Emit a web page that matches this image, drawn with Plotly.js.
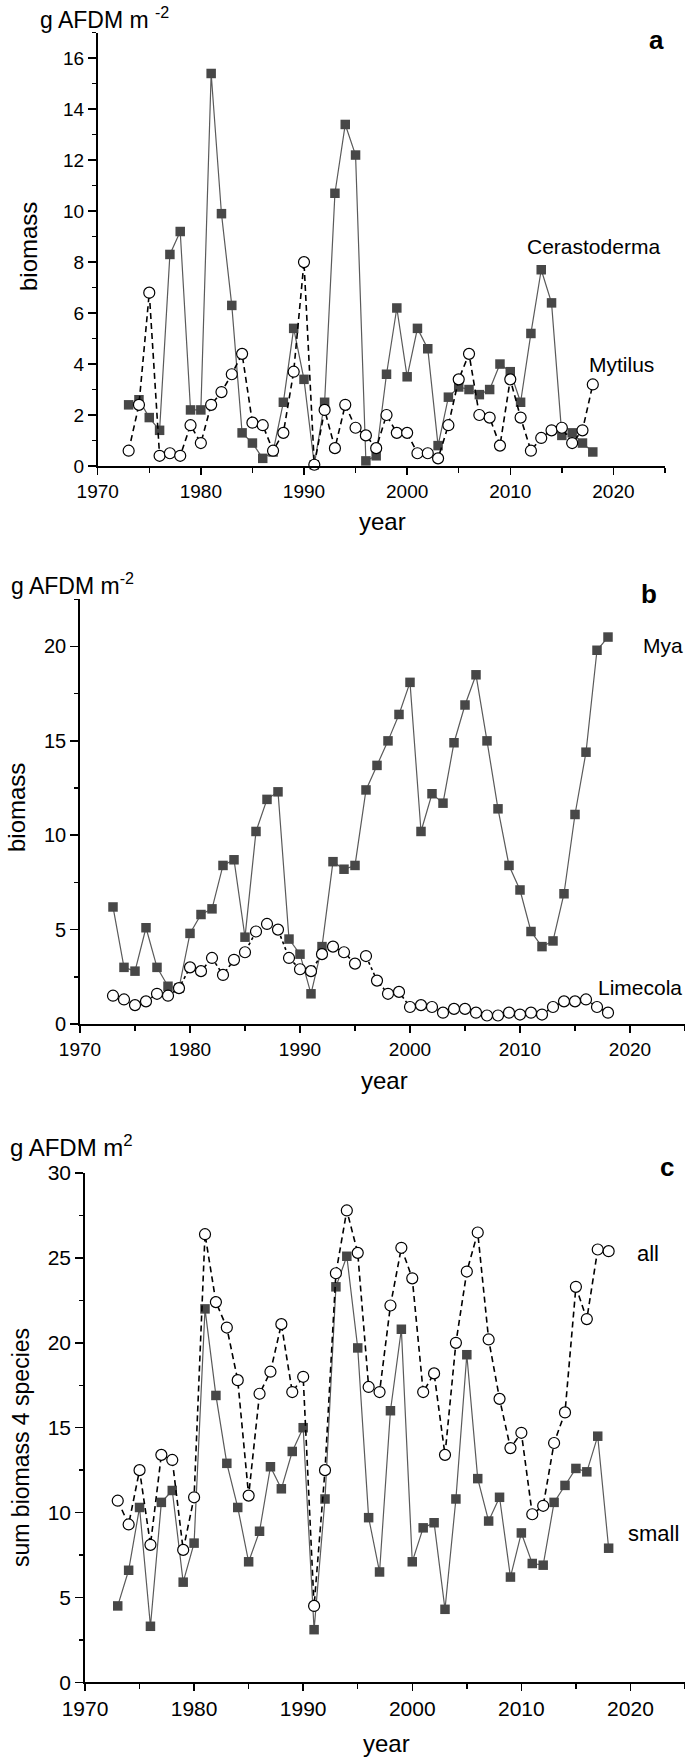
<!DOCTYPE html>
<html>
<head>
<meta charset="utf-8">
<script src="https://cdn.plot.ly/plotly-3.0.1.min.js"></script>
<style>
  html, body { margin: 0; padding: 0; background: #fff; }
  #chart { width: 685px; height: 1759px; }
</style>
</head>
<body>
<div id="chart"></div>
<script>
// ---------- data ----------
const years = [1973,1974,1975,1976,1977,1978,1979,1980,1981,1982,1983,1984,1985,1986,1987,1988,1989,1990,
  1991,1992,1993,1994,1995,1996,1997,1998,1999,2000,2001,2002,2003,2004,2005,2006,2007,2008,2009,2010,
  2011,2012,2013,2014,2015,2016,2017,2018];

// panel a
const cerastoderma = [2.4,2.6,1.9,1.4,8.3,9.2,2.2,2.2,15.4,9.9,6.3,1.3,0.9,0.3,0.55,2.5,5.4,3.4,
  0.05,2.5,10.7,13.4,12.2,0.2,0.4,3.6,6.2,3.5,5.4,4.6,0.8,2.7,3.1,3.0,2.8,3.0,4.0,3.7,
  2.5,5.2,7.7,6.4,1.2,1.3,0.9,0.55];
const mytilus = [0.6,2.4,6.8,0.4,0.5,0.4,1.6,0.9,2.4,2.9,3.6,4.4,1.7,1.6,0.6,1.3,3.7,8.0,
  0.05,2.2,0.7,2.4,1.5,1.2,0.7,2.0,1.3,1.3,0.5,0.5,0.3,1.6,3.4,4.4,2.0,1.9,0.8,3.4,
  1.9,0.6,1.1,1.4,1.5,0.9,1.4,3.2];

// panel b
const mya = [6.2,3.0,2.8,5.1,3.0,2.0,1.9,4.8,5.8,6.1,8.4,8.7,4.6,10.2,11.9,12.3,4.5,3.7,
  1.6,4.1,8.6,8.2,8.4,12.4,13.7,15.0,16.4,18.1,10.2,12.2,11.7,14.9,16.9,18.5,15.0,11.4,8.4,7.1,
  4.9,4.1,4.4,6.9,11.1,14.4,19.8,20.5];
const limecola = [1.5,1.3,1.0,1.2,1.6,1.5,1.9,3.0,2.8,3.5,2.6,3.4,3.8,4.9,5.3,5.0,3.5,2.9,
  2.8,3.7,4.1,3.8,3.2,3.6,2.3,1.6,1.7,0.9,1.0,0.9,0.6,0.8,0.8,0.6,0.45,0.45,0.6,0.5,
  0.6,0.5,0.9,1.2,1.2,1.3,0.9,0.6];

// panel c
const small = [4.5,6.6,10.3,3.3,10.6,11.3,5.9,8.2,22.0,16.9,12.9,10.3,7.1,8.9,12.7,11.4,13.6,15.0,
  3.1,10.8,23.3,25.1,19.7,9.7,6.5,16.0,20.8,7.1,9.1,9.4,4.3,10.8,19.3,12.0,9.5,10.9,6.2,8.8,
  7.0,6.9,10.6,11.6,12.6,12.4,14.5,7.9];
const all = [10.7,9.3,12.5,8.1,13.4,13.1,7.8,10.9,26.4,22.4,20.9,17.8,11.0,17.0,18.3,21.1,17.1,18.0,
  4.5,12.5,24.1,27.8,25.3,17.4,17.1,22.2,25.6,23.8,17.1,18.2,13.4,20.0,24.2,26.5,20.2,16.7,13.8,14.7,
  9.9,10.4,14.1,15.9,23.3,21.4,25.5,25.4];

const xTickVals = [1970,1980,1990,2000,2010,2020];
const xTickText = ['1970','1980','1990','2000','2010','2020'];

// ---------- styles ----------
const FONT = 'Liberation Sans, Arial, sans-serif';
const W = 685, H = 1759;
const px = v => v / W;             // x pixel -> paper
const py = v => (H - v) / H;       // y pixel -> paper

function squareTrace(y, xa, ya) {
  return {
    x: years, y: y, xaxis: xa, yaxis: ya, type: 'scatter', mode: 'lines+markers',
    cliponaxis: false,
    line: { color: '#5a5a5a', width: 1.2 },
    marker: { symbol: 'square', size: 9.5, color: '#474747', line: { width: 0 } },
    showlegend: false, hoverinfo: 'x+y'
  };
}
function circleTrace(y, xa, ya, dash) {
  return {
    x: years, y: y, xaxis: xa, yaxis: ya, type: 'scatter', mode: 'lines+markers',
    cliponaxis: false,
    line: { color: '#000', width: 1.6, dash: dash || '6px,4px' },
    marker: { symbol: 'circle', size: 11, color: '#fff', line: { width: 1.2, color: '#000' } },
    showlegend: false, hoverinfo: 'x+y'
  };
}

function xAxis(domain, anchor, fs) {
  return {
    domain: domain, anchor: anchor, range: [1970, 2025],
    tickmode: 'array', tickvals: xTickVals, ticktext: xTickText,
    ticks: 'outside', ticklen: 7, tickwidth: 1.5, tickcolor: '#000',
    minor: { dtick: 5, tick0: 1970, ticks: 'outside', ticklen: 5, tickwidth: 1.5, tickcolor: '#000' },
    showline: true, linecolor: '#000', linewidth: 1.8,
    showgrid: false, zeroline: false,
    tickfont: { family: FONT, size: fs, color: '#000' }
  };
}
function yAxis(domain, anchor, range, dtick, minor, fs) {
  return {
    domain: domain, anchor: anchor, range: range,
    tick0: 0, dtick: dtick,
    ticks: 'outside', ticklen: 8, tickwidth: 1.5, tickcolor: '#000',
    minor: { dtick: minor, tick0: 0, ticks: 'outside', ticklen: 4, tickwidth: 1.5, tickcolor: '#000' },
    showline: true, linecolor: '#000', linewidth: 1.8,
    showgrid: false, zeroline: false,
    tickfont: { family: FONT, size: fs, color: '#000' }
  };
}

const data = [
  squareTrace(cerastoderma, 'x', 'y'),
  circleTrace(mytilus, 'x', 'y'),
  squareTrace(mya, 'x2', 'y2'),
  circleTrace(limecola, 'x2', 'y2', '3px,3px'),
  squareTrace(small, 'x3', 'y3'),
  circleTrace(all, 'x3', 'y3')
];

function ann(text, x, y, size, opts) {
  return Object.assign({
    text: text, xref: 'paper', yref: 'paper', x: px(x), y: py(y),
    xanchor: 'center', yanchor: 'middle', showarrow: false,
    font: { family: FONT, size: size, color: '#000' }
  }, opts || {});
}

const annotations = [
  // panel a
  ann('g AFDM m <sup>-2</sup>', 38, 18, 23, { xanchor: 'left' }),
  ann('biomass', 29, 247, 24, { textangle: -90 }),
  ann('year', 382, 521, 24),
  ann('<b>a</b>', 656, 40, 26),
  ann('Cerastoderma', 593, 247, 21),
  ann('Mytilus', 621, 364, 21),
  // panel b
  ann('g AFDM m<sup>-2</sup>', 9, 584, 23, { xanchor: 'left' }),
  ann('biomass', 17, 808, 24, { textangle: -90 }),
  ann('year', 384, 1080, 24),
  ann('<b>b</b>', 649, 594, 26),
  ann('Mya', 663, 645, 21),
  ann('Limecola', 640, 987, 21),
  // panel c
  ann('g AFDM m<sup>2</sup>', 8, 1146, 24, { xanchor: 'left' }),
  ann('sum biomass 4 species', 21, 1448, 23, { textangle: -90 }),
  ann('year', 387, 1743, 24),
  ann('<b>c</b>', 667, 1167, 26),
  ann('all', 648, 1254, 22),
  ann('small', 653, 1533, 22)
];

const layout = {
  width: W, height: H,
  margin: { l: 0, r: 0, t: 0, b: 0, pad: 0 },
  paper_bgcolor: '#fff', plot_bgcolor: 'rgba(0,0,0,0)',
  showlegend: false,
  xaxis: xAxis([px(97.7), px(665)], 'y', 19),
  yaxis: yAxis([py(466), py(32.7)], 'x', [0, 17], 2, 1, 19),
  xaxis2: xAxis([px(80), px(685)], 'y2', 19),
  yaxis2: yAxis([py(1024), py(599.3)], 'x2', [0, 22.5], 5, 2.5, 20),
  xaxis3: xAxis([px(85), px(685)], 'y3', 21),
  yaxis3: yAxis([py(1682.3), py(1173.1)], 'x3', [0, 30], 5, 2.5, 21),
  annotations: annotations
};

Plotly.newPlot('chart', data, layout, { staticPlot: true, displayModeBar: false });
</script>
</body>
</html>
